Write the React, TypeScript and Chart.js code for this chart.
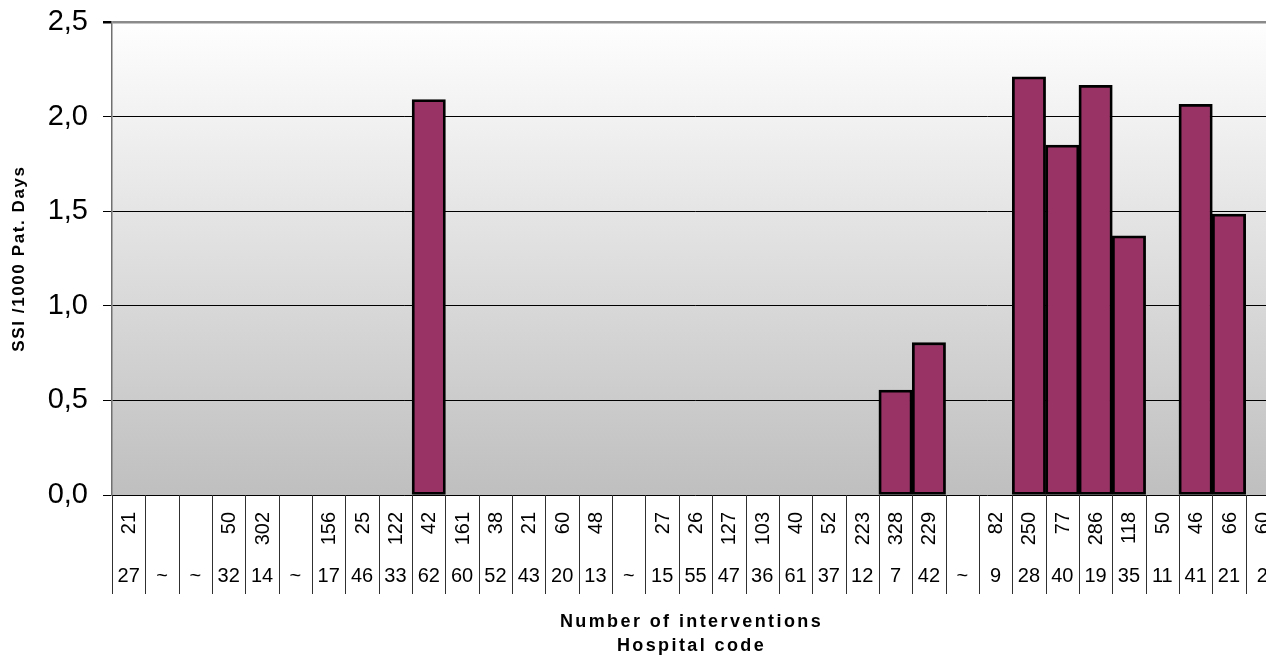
import React, { useEffect, useRef } from 'react';
import { Chart, registerables } from 'chart.js';

Chart.register(...registerables);

const hospitalCodes = ['27', '~', '~', '32', '14', '~', '17', '46', '33', '62', '60', '52', '43', '20', '13', '~', '15', '55', '47', '36', '61', '37', '12', '7', '42', '~', '9', '28', '40', '19', '35', '11', '41', '21', '2'];
const interventions = ['21', '', '', '50', '302', '', '156', '25', '122', '42', '161', '38', '21', '60', '48', '', '27', '26', '127', '103', '40', '52', '223', '328', '229', '', '82', '250', '77', '286', '118', '50', '46', '66', '60'];
const ssiRates: (number | null)[] = [null, null, null, null, null, null, null, null, null, 2.09, null, null, null, null, null, null, null, null, null, null, null, null, null, 0.555, 0.805, null, null, 2.21, 1.85, 2.165, 1.37, null, 2.065, 1.485, null];
const yTicks = [0, 0.5, 1, 1.5, 2, 2.5];

const yTitle = 'SSI /1000 Pat. Days';
const xTitle1 = 'Number of interventions';
const xTitle2 = 'Hospital code';

const FONT = "'Liberation Sans', Arial, sans-serif";

const backgroundPlugin = {
  id: 'bgGradient',
  beforeDraw(chart: any) {
    const { ctx, chartArea } = chart;
    const g = ctx.createLinearGradient(0, chartArea.top, 0, chartArea.bottom);
    g.addColorStop(0, '#fefefe');
    g.addColorStop(1, '#bfbfbf');
    ctx.save();
    ctx.fillStyle = g;
    ctx.fillRect(chartArea.left, chartArea.top, chartArea.right - chartArea.left, chartArea.bottom - chartArea.top);
    ctx.restore();
  },
};

const tablePlugin = {
  id: 'dataTable',
  afterDraw(chart: any) {
    const { ctx, chartArea } = chart;
    const xs = chart.scales.x;
    const n = hospitalCodes.length;
    const w = (chartArea.right - chartArea.left) / n;
    const top = chartArea.bottom;
    const tableBottom = top + 99;
    ctx.save();
    ctx.strokeStyle = '#303030';
    ctx.lineWidth = 1;
    for (let i = 0; i <= n; i++) {
      const x = Math.round(chartArea.left + i * w) + 0.5;
      ctx.beginPath();
      ctx.moveTo(x, top);
      ctx.lineTo(x, tableBottom);
      ctx.stroke();
    }
    ctx.fillStyle = '#000';
    ctx.font = `20px ${FONT}`;
    for (let i = 0; i < n; i++) {
      const cx = xs.getPixelForValue(i);
      if (interventions[i]) {
        ctx.save();
        ctx.translate(cx, top + 17);
        ctx.rotate(-Math.PI / 2);
        ctx.textAlign = 'right';
        ctx.textBaseline = 'middle';
        ctx.fillText(interventions[i], 0, 1);
        ctx.restore();
      }
      ctx.textAlign = 'center';
      ctx.textBaseline = 'middle';
      ctx.fillText(hospitalCodes[i], cx, top + 81);
    }
    ctx.font = `bold 18px ${FONT}`;
    (ctx as any).letterSpacing = '2.4px';
    ctx.textAlign = 'center';
    ctx.textBaseline = 'alphabetic';
    const cxTitle = (chartArea.left + chartArea.right) / 2 - 4;
    ctx.fillText(xTitle1, cxTitle, 627);
    ctx.fillText(xTitle2, cxTitle, 651);
    ctx.font = `bold 17px ${FONT}`;
    (ctx as any).letterSpacing = '1.6px';
    ctx.save();
    ctx.translate(19, (chartArea.top + chartArea.bottom) / 2);
    ctx.rotate(-Math.PI / 2);
    ctx.textAlign = 'center';
    ctx.textBaseline = 'middle';
    ctx.fillText(yTitle, 0, 0);
    ctx.restore();
    (ctx as any).letterSpacing = '0px';
    ctx.restore();
  },
};

export default function App() {
  const ref = useRef<HTMLCanvasElement | null>(null);
  useEffect(() => {
    if (!ref.current) return;
    const chart = new Chart(ref.current, {
      type: 'bar',
      data: {
        labels: hospitalCodes.map((c, i) => `${i}`),
        datasets: [
          {
            data: ssiRates as any,
            backgroundColor: '#993366',
            borderColor: '#000000',
            borderWidth: 2.8,
            borderSkipped: false,
            barPercentage: 1,
            categoryPercentage: 1,
          },
        ],
      },
      options: {
        responsive: false,
        animation: false,
        layout: { padding: { top: 22, right: 11, bottom: 164, left: 0 } },
        plugins: { legend: { display: false }, tooltip: { enabled: false } },
        scales: {
          x: { type: 'category', display: false, offset: true },
          y: {
            min: 0,
            max: 2.5,
            afterBuildTicks: (axis: any) => {
              axis.ticks = yTicks.map((v) => ({ value: v }));
            },
            afterFit: (axis: any) => {
              axis.width = 112;
              axis.paddingTop = 0;
              axis.paddingBottom = 0;
            },
            ticks: {
              padding: 15,
              color: '#000',
              font: { family: FONT, size: 29 },
              callback: (v: any) => Number(v).toFixed(1).replace('.', ','),
            },
            grid: {
              drawTicks: true,
              tickLength: 9,
              tickColor: '#000',
              color: (c: any) => (c.tick && c.tick.value === 2.5 ? '#8a8a8a' : '#000'),
              lineWidth: (c: any) => (c.tick && c.tick.value === 2.5 ? 2.5 : 1),
            },
            border: { color: '#707070', width: 1.5 },
          },
        },
      },
      plugins: [backgroundPlugin, tablePlugin],
    });
    return () => chart.destroy();
  }, []);
  return (
    <div style={{ position: 'fixed', left: 0, top: 0, width: 1266, height: 659, overflow: 'hidden', background: '#fff' }}>
      <canvas ref={ref} width={1290} height={659} style={{ display: 'block', width: 1290, height: 659 }} />
    </div>
  );
}
